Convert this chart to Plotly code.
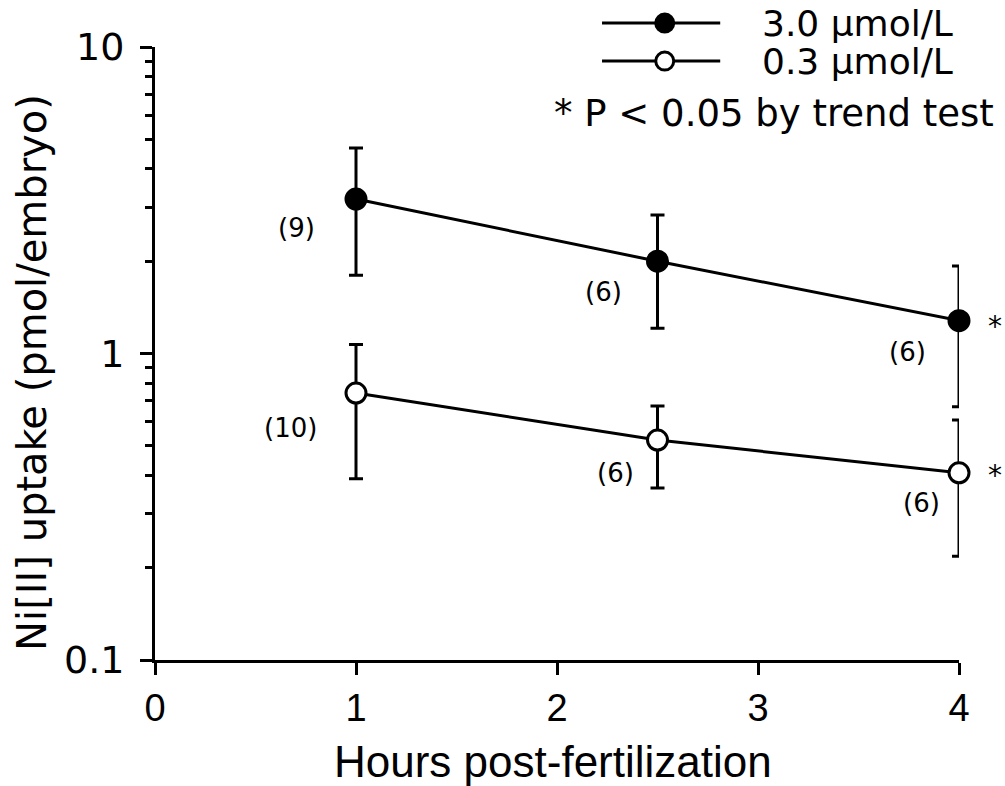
import math
import plotly.graph_objects as go

# ---- data ----
hours = [1, 2.5, 4]
high_label = "3.0 μmol/L"
high_mean = [3.19, 2.00, 1.28]
high_upper = [4.68, 2.83, 1.93]
high_lower = [1.80, 1.21, 0.67]
high_n = ["(9)", "(6)", "(6)"]

low_label = "0.3 μmol/L"
low_mean = [0.743, 0.522, 0.408]
low_upper = [1.07, 0.674, 0.607]
low_lower = [0.390, 0.364, 0.218]
low_n = ["(10)", "(6)", "(6)"]

x_ticks = [0, 1, 2, 3, 4]
y_ticks = [0.1, 1, 10]
y_ticklabels = ["0.1", "1", "10"]
y_minor = [0.2, 0.3, 0.4, 0.5, 0.6, 0.7, 0.8, 0.9, 2, 3, 4, 5, 6, 7, 8, 9]
note_text = "* P < 0.05 by trend test"
x_title = "Hours post-fertilization"
y_title = "Ni[II] uptake (pmol/embryo)"

# ---- styling ----
FONT = "DejaVu Sans"
FONT2 = "Liberation Sans, Arial"
high_shifts = [(-60, -29), (-54, -31), (-52, -31)]
low_shifts = [(-66, -35), (-42, -33), (-38, -30)]

fig = go.Figure()


def add_series(mean, upper, lower, fill):
    fig.add_trace(go.Scatter(
        x=hours, y=mean, mode="lines+markers",
        line=dict(color="black", width=3),
        marker=dict(size=20, color=fill, symbol="circle",
                    line=dict(color="black", width=3)),
        error_y=dict(type="data", symmetric=False,
                     array=[u - m for u, m in zip(upper, mean)],
                     arrayminus=[m - l for m, l in zip(mean, lower)],
                     color="black", thickness=3, width=7),
        showlegend=False, cliponaxis=False,
    ))


add_series(high_mean, high_upper, high_lower, "black")
add_series(low_mean, low_upper, low_lower, "white")

annotations = []
for xs, ys, labels, shifts in [(hours, high_mean, high_n, high_shifts),
                               (hours, low_mean, low_n, low_shifts)]:
    for x, y, t, (dx, dy) in zip(xs, ys, labels, shifts):
        annotations.append(dict(x=x, y=math.log10(y), xref="x", yref="y", text=t,
                                showarrow=False, xshift=dx, yshift=dy,
                                font=dict(family=FONT, size=26, color="black")))
# trend-test stars next to the last points
for y, dy in [(high_mean[-1], -6), (low_mean[-1], -3)]:
    annotations.append(dict(x=hours[-1], y=math.log10(y), xref="x", yref="y", text="*",
                            showarrow=False, xshift=36, yshift=dy,
                            font=dict(family=FONT, size=28, color="black")))

# manual legend and axis titles
annotations += [
    dict(x=0.752, y=1.039, xref="paper", yref="paper", text=high_label,
         showarrow=False, xanchor="left", yanchor="middle",
         font=dict(family=FONT, size=36, color="black")),
    dict(x=0.752, y=0.977, xref="paper", yref="paper", text=low_label,
         showarrow=False, xanchor="left", yanchor="middle",
         font=dict(family=FONT, size=36, color="black")),
    dict(x=1.046, y=0.892, xref="paper", yref="paper", text=note_text,
         showarrow=False, xanchor="right", yanchor="middle",
         font=dict(family=FONT, size=37, color="black")),
    dict(x=0.495, y=-0.165, xref="paper", yref="paper", text=x_title,
         showarrow=False, xanchor="center", yanchor="middle",
         font=dict(family=FONT2, size=44, color="black")),
    dict(x=-0.153, y=0.47, xref="paper", yref="paper", text=y_title,
         showarrow=False, xanchor="center", yanchor="middle", textangle=-90,
         font=dict(family=FONT, size=40, color="black")),
]

shapes = []
for yp, fill in [(1.039, "black"), (0.977, "white")]:
    shapes.append(dict(type="line", xref="paper", yref="paper",
                       x0=0.556, x1=0.703, y0=yp, y1=yp,
                       line=dict(color="black", width=3)))
    shapes.append(dict(type="circle", xref="paper", yref="paper",
                       xsizemode="pixel", ysizemode="pixel",
                       xanchor=0.634, yanchor=yp,
                       x0=-9, x1=9, y0=-9, y1=9,
                       fillcolor=fill, line=dict(color="black", width=3)))

fig.update_layout(
    width=1005, height=786,
    margin=dict(l=155, r=46, t=47, b=126),
    paper_bgcolor="white", plot_bgcolor="white",
    annotations=annotations, shapes=shapes,
    showlegend=False,
)

fig.update_xaxes(
    range=[0, 4], tickvals=x_ticks, ticktext=[str(v) for v in x_ticks],
    showgrid=False, zeroline=False, showline=True, linecolor="black",
    linewidth=3, ticks="outside", ticklen=12, tickwidth=3, tickcolor="black",
    tickfont=dict(family=FONT2, size=38, color="black"), automargin=False,
)
fig.update_yaxes(
    type="log", range=[-1, 1], tickvals=y_ticks, ticktext=y_ticklabels,
    showgrid=False, zeroline=False, showline=True, linecolor="black",
    linewidth=3, ticks="outside", ticklen=12, tickwidth=3, tickcolor="black",
    tickfont=dict(family=FONT, size=38, color="black"), automargin=False,
    ticklabelstandoff=8,
    minor=dict(ticks="outside", ticklen=7, tickwidth=3, tickcolor="black",
               tickmode="array", tickvals=y_minor, showgrid=False),
)

# remove the default 8px page margin so the figure fills the window exactly
fig.write_html(
    "out.html",
    config={"displayModeBar": False},
    post_script="document.body.style.margin='0px';document.body.style.overflow='hidden';",
)
